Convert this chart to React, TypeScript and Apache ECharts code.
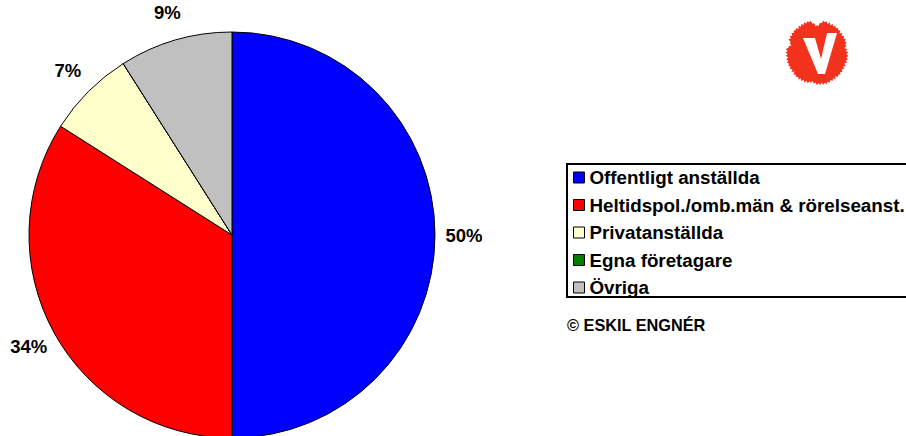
import React, { useEffect, useRef } from "react";
import * as echarts from "echarts";

const categories = [
  "Offentligt anställda",
  "Heltidspol./omb.män & rörelseanst.",
  "Privatanställda",
  "Egna företagare",
  "Övriga",
];
const shares = [50, 34, 7, 0, 9];
const colors = ["#0000FF", "#FF0000", "#FFFFCC", "#008000", "#C0C0C0"];
const copyright = "© ESKIL ENGNÉR";

const FONT = "'Liberation Sans', Arial, sans-serif";

function blobPoints(cx: number, cy: number, rx: number, ry: number) {
  const pts: number[][] = [];
  const n = 120;
  for (let i = 0; i < n; i++) {
    const a = (i / n) * Math.PI * 2;
    const deg = (i / n) * 360;
    let f = i % 2 === 0 ? 1 : 0.95 - 0.03 * ((i * 7) % 5) / 4;
    const dTop = Math.min(Math.abs(deg - 270), 360 - Math.abs(deg - 270));
    f *= 1 - 0.17 * Math.exp(-Math.pow(dTop / 8, 2));
    const dLeft = Math.abs(deg - 195);
    f *= 1 - 0.12 * Math.exp(-Math.pow(dLeft / 5, 2));
    const dBot = Math.abs(deg - 100);
    f *= 1 - 0.07 * Math.exp(-Math.pow(dBot / 7, 2));
    const dRight = Math.min(Math.abs(deg - 350), 360 - Math.abs(deg - 350));
    f *= 1 - 0.05 * Math.exp(-Math.pow(dRight / 6, 2));
    pts.push([cx + Math.cos(a) * rx * f, cy + Math.sin(a) * ry * f]);
  }
  return pts;
}

export default function App() {
  const ref = useRef<HTMLDivElement>(null);
  useEffect(() => {
    document.body.style.margin = "0";
    const chart = echarts.init(ref.current!, undefined, { renderer: "svg" });
    const data = categories.map((name, i) => ({
      name,
      value: shares[i],
      itemStyle: { color: colors[i] },
    }));
    chart.setOption({
      animation: false,
      backgroundColor: "#fff",
      legend: {
        orient: "vertical",
        left: 567,
        top: 164,
        padding: [4, 40, 0, 6],
        itemGap: 8.5,
        itemWidth: 11,
        itemHeight: 11,
        icon: "rect",
        selectedMode: false,
        borderColor: "#000",
        borderWidth: 2,
        borderRadius: 0,
        backgroundColor: "#fff",
        itemStyle: { borderColor: "#000", borderWidth: 1 },
        textStyle: {
          fontFamily: FONT,
          fontWeight: "bold",
          fontSize: 18.8,
          color: "#000",
          lineHeight: 18.8,
        },
        data: categories,
      },
      graphic: [
        {
          type: "polygon",
          shape: { points: blobPoints(817, 52.5, 31.5, 33) },
          style: { fill: "#F3321E" },
        },
        {
          type: "polygon",
          shape: {
            points: [
              [803, 38],
              [815, 38],
              [821, 59],
              [827, 33],
              [837, 33],
              [825, 74],
              [818, 74],
            ],
          },
          style: { fill: "#fff" },
        },
        {
          type: "text",
          left: 567,
          top: 317,
          style: {
            text: copyright,
            font: `bold 16.3px ${FONT}`,
            fill: "#000",
          },
        },
      ],
      series: [
        {
          type: "pie",
          center: [232, 235],
          radius: 203,
          startAngle: 90,
          clockwise: true,
          avoidLabelOverlap: false,
          label: { show: false },
          labelLine: { show: false },
          emphasis: { disabled: true },
          itemStyle: { borderColor: "#000", borderWidth: 1 },
          data,
        },
        {
          type: "pie",
          center: [232, 235],
          radius: [0, 458],
          startAngle: 90,
          clockwise: true,
          silent: true,
          z: 1,
          avoidLabelOverlap: false,
          emphasis: { disabled: true },
          itemStyle: { color: "rgba(0,0,0,0)", borderWidth: 0 },
          labelLine: { show: false },
          label: {
            show: true,
            position: "inside",
            formatter: (p: any) => (p.value > 0 ? Math.round(p.percent) + "%" : ""),
            fontFamily: FONT,
            fontWeight: "bold",
            fontSize: 18.5,
            color: "#000",
          },
          data: categories.map((name, i) => ({
            name,
            value: shares[i],
            itemStyle: { color: "rgba(0,0,0,0)" },
          })),
        },
      ],
    });
    return () => chart.dispose();
  }, []);
  return <div ref={ref} style={{ width: 906, height: 436 }} />;
}
